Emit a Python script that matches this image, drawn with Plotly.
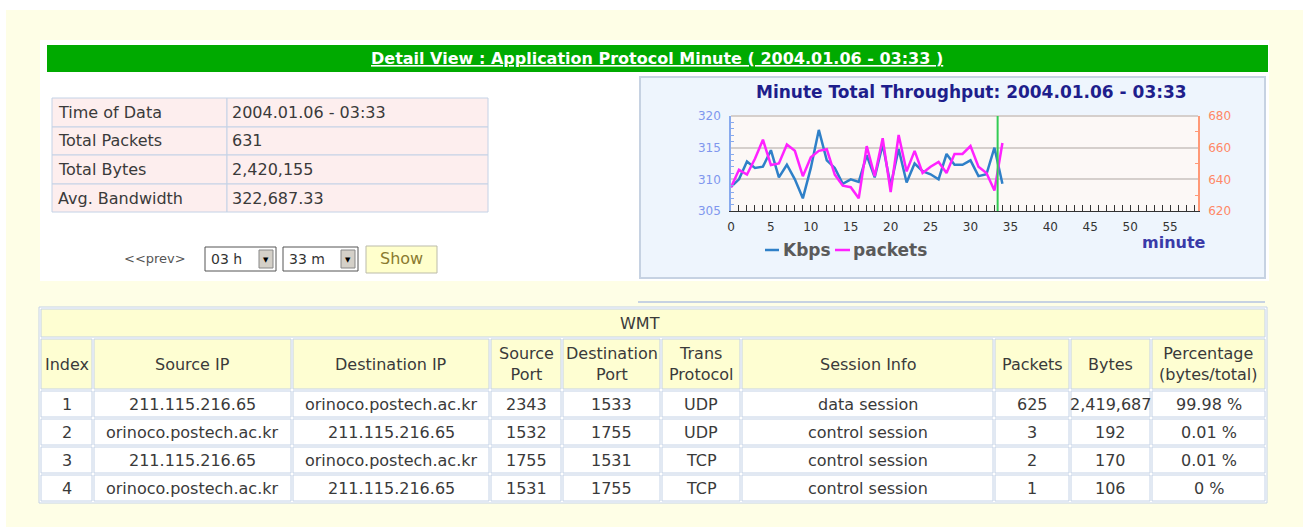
import plotly.graph_objects as go

# ---------------- data ----------------
minutes = list(range(35))
kbps = [308.8, 310.0, 312.8, 311.8, 312.0, 314.6, 310.3, 312.3, 310.0, 307.0,
        311.8, 317.8, 313.0, 311.8, 309.3, 310.0, 309.6, 313.8, 310.3, 315.5,
        309.0, 314.8, 309.5, 312.5, 311.3, 310.8, 310.0, 314.0, 312.3, 312.3,
        313.0, 310.5, 310.8, 315.0, 309.3]
packets = [635, 646, 643, 653, 665, 649, 650, 662, 658, 642,
           654, 658, 659, 643, 636, 635, 628, 661, 642, 666,
           632, 668, 645, 658, 644, 648, 651, 644, 656, 656,
           661, 648, 644, 633, 663]
current_minute = 33.4

info_labels = ["Time of Data", "Total Packets", "Total Bytes", "Avg. Bandwidth"]
info_values = ["2004.01.06 - 03:33", "631", "2,420,155", "322,687.33"]

table_title = "WMT"
headers = ["Index", "Source IP", "Destination IP", "Source<br>Port", "Destination<br>Port",
           "Trans<br>Protocol", "Session Info", "Packets", "Bytes", "Percentage<br>(bytes/total)"]
idx = ["1", "2", "3", "4"]
src_ip = ["211.115.216.65", "orinoco.postech.ac.kr", "211.115.216.65", "orinoco.postech.ac.kr"]
dst_ip = ["orinoco.postech.ac.kr", "211.115.216.65", "orinoco.postech.ac.kr", "211.115.216.65"]
src_port = ["2343", "1532", "1755", "1531"]
dst_port = ["1533", "1755", "1531", "1755"]
proto = ["UDP", "UDP", "TCP", "TCP"]
session = ["data session", "control session", "control session", "control session"]
pkts = ["625", "3", "2", "1"]
bytes_ = ["2,419,687", "192", "170", "106"]
pct = ["99.98 %", "0.01 %", "0.01 %", "0 %"]

title_text = "Detail View : Application Protocol Minute ( 2004.01.06 - 03:33 )"
chart_title = "Minute Total Throughput: 2004.01.06 - 03:33"

# ---------------- helpers ----------------
PAGE_W, PAGE_H = 1303, 527
OFF = 8                      # default body margin of the page
W, H = PAGE_W - 2 * OFF, PAGE_H - 2 * OFF
FONT = "DejaVu Sans"
PAGE_YELLOW = "#fefee6"


def px(x):
    return (x - OFF) / W


def py(y):
    return 1 - (y - OFF) / H


shapes = []
annotations = []


def rect(x0, y0, x1, y1, fill, line=None, lw=1):
    shapes.append(dict(type="rect", xref="paper", yref="paper",
                       x0=px(x0), x1=px(x1), y0=py(y1), y1=py(y0),
                       fillcolor=fill,
                       line=dict(color=line if line else fill, width=lw if line else 0),
                       layer="below"))


def hline(x0, x1, y, color, lw=1, layer="below"):
    shapes.append(dict(type="line", xref="paper", yref="paper",
                       x0=px(x0), x1=px(x1), y0=py(y), y1=py(y),
                       line=dict(color=color, width=lw), layer=layer))


def text(x, y, s, size=16, color="#3a3a3a", anchor="center", bold=False, family=FONT):
    if bold:
        s = "<b>" + s + "</b>"
    annotations.append(dict(x=px(x), y=py(y), xref="paper", yref="paper", text=s,
                            showarrow=False, xanchor=anchor, yanchor="middle",
                            font=dict(family=family, size=size, color=color)))


# ---------------- page background ----------------
rect(6, 10, PAGE_W + 20, PAGE_H + 20, PAGE_YELLOW)
rect(40, 40, 1269, 281, "#ffffff")

# green title bar
rect(47, 45, 1268, 72, "#00aa00")
text(657, 58, "<u>" + title_text + "</u>", size=16, color="#ffffff", bold=True)

# info table
row_y = [98, 127, 155, 184, 212]
for i in range(4):
    rect(52, row_y[i], 227, row_y[i + 1], "#fdeeee", "#c4d2e6", 1)
    rect(227, row_y[i], 488, row_y[i + 1], "#fdeeee", "#c4d2e6", 1)
    cy = (row_y[i] + row_y[i + 1]) / 2
    text(56, cy, info_labels[i], anchor="left")
    text(230, cy, info_values[i], anchor="left")

# controls
text(155, 258, "&lt;&lt;prev&gt;", size=13, color="#555555")
for (x0, x1, lab) in [(205, 276, "03 h"), (283, 358, "33 m")]:
    rect(x0, 247, x1, 271, "#ffffff", "#555555", 1)
    rect(x1 - 17, 250, x1 - 3, 268, "#d4d0c8", "#888888", 1)
    text(x0 + 4, 259, lab, size=14, color="#333333", anchor="left")
    text(x1 - 10, 260, "▼", size=7, color="#000000")
rect(366, 246, 437, 273, "#ffffcc", "#bbbbaa", 1)
text(401, 258, "Show", size=16, color="#8a7a30")

# chart panel
rect(640, 77, 1265, 278, "#eef5fd", "#c6d2e2", 2)
rect(731, 116, 1198, 211, "#fcf8f6")
text(971, 92, chart_title, size=17, color="#1e1e8c", bold=True)
hline(731, 1198, 116, "#d5cfcc", 2)

# legend
hline(765, 779, 250, "#2f80c8", 2.5, layer="above")
text(781, 250, "Kbps", size=17, color="#5a5a5a", anchor="left", bold=True)
hline(835, 850, 250, "#ff22ff", 2.5, layer="above")
text(851, 250, "packets", size=17, color="#5a5a5a", anchor="left", bold=True)
text(1174, 242, "minute", size=16, color="#3a3aa8", bold=True)

# separator line
hline(638, 1265, 302, "#c6d2e2", 2)

# bottom table
col_x = [40, 93, 292, 490, 562, 661, 741, 994, 1070, 1151, 1266]
rect(39, 307, 1267, 503, "#ffffff", "#c4d2e6", 1)
rect(41, 309, 1265, 337, "#fefed2", "#c4d2e6", 1)
text(640, 323, table_title)
for j in range(10):
    rect(col_x[j] + 1, 339, col_x[j + 1] - 1, 389, "#fefed2", "#c4d2e6", 1)
    text((col_x[j] + col_x[j + 1]) / 2, 364, headers[j])
rows_y = [391, 419, 447, 475, 503]
cols = [idx, src_ip, dst_ip, src_port, dst_port, proto, session, pkts, bytes_, pct]
for r in range(4):
    for j in range(10):
        rect(col_x[j] + 1, rows_y[r], col_x[j + 1] - 1, rows_y[r + 1] - 2,
             "#ffffff", "#c4d2e6", 1)
        text((col_x[j] + col_x[j + 1]) / 2, (rows_y[r] + rows_y[r + 1] - 2) / 2,
             cols[j][r])

# ---------------- chart ----------------
fig = go.Figure()
fig.add_trace(go.Scatter(x=minutes, y=kbps, mode="lines", name="Kbps",
                         line=dict(color="#2f80c8", width=2.5), yaxis="y",
                         showlegend=False))
fig.add_trace(go.Scatter(x=minutes, y=packets, mode="lines", name="packets",
                         line=dict(color="#ff22ff", width=2.5), yaxis="y2",
                         showlegend=False))

shapes.append(dict(type="line", xref="x", yref="paper", x0=current_minute, x1=current_minute,
                   y0=py(211), y1=py(116), line=dict(color="#33cc55", width=2), layer="above"))

fig.update_layout(
    width=W, height=H,
    margin=dict(l=0, r=0, t=0, b=0, autoexpand=False),
    paper_bgcolor="#ffffff",
    plot_bgcolor="rgba(0,0,0,0)",
    shapes=shapes,
    annotations=annotations,
    xaxis=dict(domain=[px(731), px(1198)], range=[0, 58.5], dtick=5, tick0=0,
               showgrid=False, zeroline=False, showline=True, linecolor="#333333",
               linewidth=1, ticks="inside", ticklen=6, tickcolor="#333333",
               minor=dict(dtick=1, ticks="inside", ticklen=6, tickcolor="#333333"),
               ticklabelstandoff=5,
               tickfont=dict(family=FONT, size=12, color="#333333")),
    yaxis=dict(domain=[py(211), py(116)], range=[305, 320], dtick=5,
               showgrid=True, gridcolor="#d5cfcc", gridwidth=2, zeroline=False,
               showline=True, linecolor="#88aaee", linewidth=1.5,
               ticks="", minor=dict(dtick=1, ticks="inside", ticklen=3, tickcolor="#88aaee"),
               ticklabelstandoff=6,
               tickfont=dict(family=FONT, size=12, color="#7f97ee")),
    yaxis2=dict(overlaying="y", side="right", anchor="x", range=[620, 680], dtick=20,
                showgrid=False, zeroline=False, showline=True, linecolor="#ff9977",
                linewidth=1.5, ticks="",
                minor=dict(dtick=10, ticks="inside", ticklen=3, tickcolor="#ff9977"),
                ticklabelstandoff=6,
                tickfont=dict(family=FONT, size=12, color="#ff8866")),
)

# page margins: keep top/left strips white, rest of the page light yellow
page_bg = ("linear-gradient(to right, #ffffff 6px, rgba(255,255,255,0) 6px), "
           "linear-gradient(to bottom, #ffffff 10px, " + PAGE_YELLOW + " 10px)")
fig.write_html("out.html", config={"displayModeBar": False},
               post_script="document.body.style.background='" + page_bg + "';")
